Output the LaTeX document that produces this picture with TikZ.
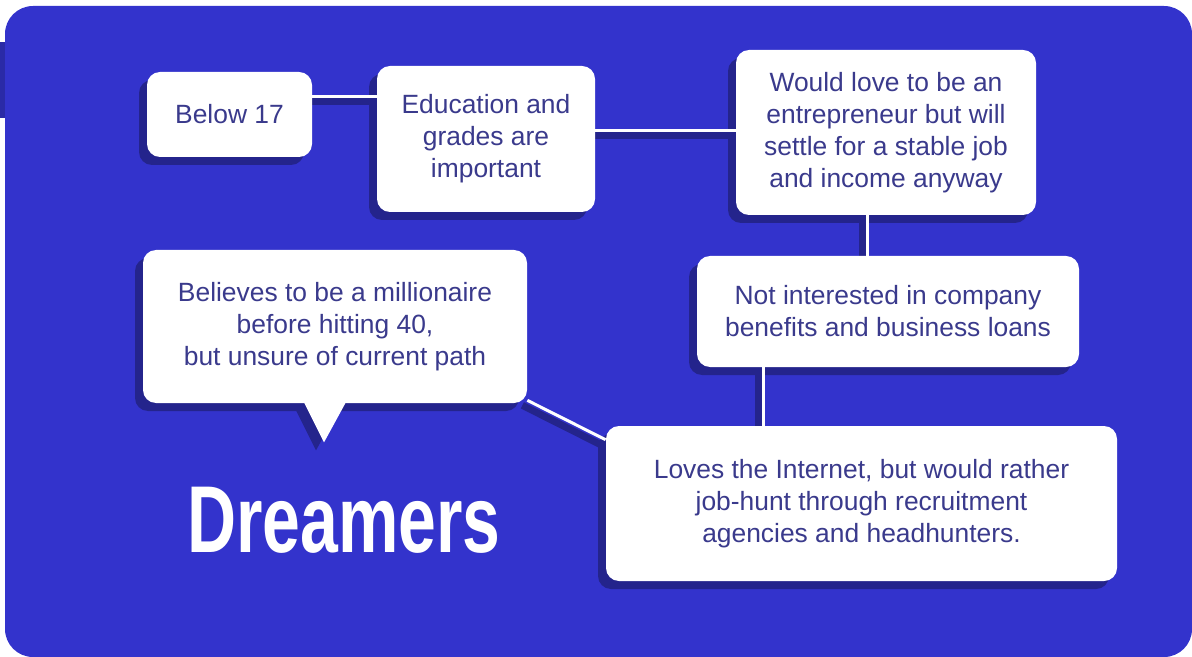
\documentclass[tikz,border=0pt]{standalone}
\usepackage{fontspec}
\setmainfont{Liberation Sans}
\usepackage{tikz}
\usetikzlibrary{shadows}
\definecolor{dreamback}{RGB}{51,51,204}
\definecolor{dreamshade}{RGB}{36,36,140}
\definecolor{dreamtext}{RGB}{58,58,140}
\pgfdeclarelayer{back}
\pgfdeclarelayer{shade}
\pgfsetlayers{back,shade,main}

\tikzset{
  card/.style={fill=white,rounded corners=6.5pt,align=center,text=dreamtext,inner sep=0pt,
    font=\fontsize{13.2}{16}\selectfont,
    drop shadow={shadow xshift=-4pt,shadow yshift=-4pt,opacity=1,fill=dreamshade}},
  wire/.style={draw=white,line width=1.5pt},
  wireshade/.style={draw=dreamshade,line width=3.5pt,transform canvas={shift={(-2.5pt,-2.5pt)}}},
}

\begin{document}
\begin{tikzpicture}[x=0.5pt,y=-0.5pt]
\useasboundingbox (0,0) rectangle (1192,657);
\begin{pgfonlayer}{back}
\fill[dreamback!82!black] (0,42) rectangle (6,118);
\fill[dreamback,rounded corners=14pt] (5,6) rectangle (1192,657);
\end{pgfonlayer}

\node[card,minimum width=82.5pt,minimum height=42.5pt] (below) at (229.5,114.5) {Below 17};
\node[card,minimum width=109pt,minimum height=73pt] (edu) at (486,139)
{Education and\\grades are\\important};
\node[card,minimum width=150pt,minimum height=82.5pt] (entre) at (886,132.5)
{Would love to be an\\entrepreneur but will\\settle for a stable job\\and income anyway};
\node[card,minimum width=191pt,minimum height=55.5pt] (notint) at (888,311.5)
{Not interested in company\\benefits and business loans};
\node[card,minimum width=255.5pt,minimum height=77.5pt] (loves) at (861.5,503.5)
{Loves the Internet, but would rather\\job-hunt through recruitment\\agencies and headhunters.};
\node[card,minimum width=192pt,minimum height=76.5pt] (believes) at (335,326.5)
{Believes to be a millionaire\\before hitting 40,\\but unsure of current path};

% speech pointer
\begin{pgfonlayer}{shade}
\fill[dreamshade,transform canvas={shift={(-4pt,-4pt)}}] ([xshift=-16.5pt,yshift=2.5pt]believes.south)
  -- ([xshift=-5.5pt,yshift=-19.5pt]believes.south) -- ([xshift=6.5pt,yshift=2.5pt]believes.south) -- cycle;
\end{pgfonlayer}
\fill[white] ([xshift=-16.5pt,yshift=2.5pt]believes.south)
  -- ([xshift=-5.5pt,yshift=-19.5pt]believes.south) -- ([xshift=6.5pt,yshift=2.5pt]believes.south) -- cycle;

\node[anchor=base,text=white,font=\bfseries\fontsize{47.5}{50}\selectfont] (title) at (344,552)
{\scalebox{0.715}[1]{Dreamers}};

% links
\begin{pgfonlayer}{shade}
\foreach \ws in {wireshade}{
  \draw[\ws] ([yshift=8.75pt]below.east) -- ([yshift=8.75pt]below.east -| edu.west);
  \draw[\ws] ([yshift=4pt]edu.east) -- ([yshift=4pt]edu.east -| entre.west);
  \draw[\ws] ([xshift=-9.5pt]entre.south) -- ([xshift=-9.5pt]entre.south |- notint.north);
  \draw[\ws] ([xshift=-62.5pt]notint.south) -- ([xshift=-62.5pt]notint.south |- loves.north);
  \draw[\ws] (believes.-21) -- (loves.166);
}
\end{pgfonlayer}
\draw[wire] ([yshift=8.75pt]below.east) -- ([yshift=8.75pt]below.east -| edu.west);
\draw[wire] ([yshift=4pt]edu.east) -- ([yshift=4pt]edu.east -| entre.west);
\draw[wire] ([xshift=-9.5pt]entre.south) -- ([xshift=-9.5pt]entre.south |- notint.north);
\draw[wire] ([xshift=-62.5pt]notint.south) -- ([xshift=-62.5pt]notint.south |- loves.north);
\draw[wire] (believes.-21) -- (loves.166);
\end{tikzpicture}
\end{document}
